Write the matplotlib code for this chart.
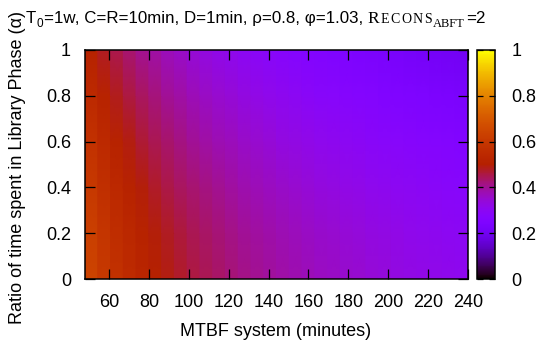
import numpy as np
import matplotlib
matplotlib.use('Agg')
import matplotlib.pyplot as plt

plt.rcParams['font.family'] = ['Liberation Sans', 'DejaVu Sans']

# MTBF grid (minutes): 31 nodes -> 30 pm3d columns
mtbf_nodes = np.linspace(48, 240, 31)
alpha_levels = [0.0, 0.2, 0.4, 0.6, 0.8, 1.0]

# colour value of each column, one list per alpha level
ratio_a00 = [0.640, 0.605, 0.575, 0.549, 0.527, 0.507, 0.490, 0.474, 0.460, 0.447,
             0.435, 0.424, 0.414, 0.405, 0.396, 0.388, 0.380, 0.373, 0.366, 0.360,
             0.354, 0.348, 0.343, 0.337, 0.332, 0.328, 0.323, 0.319, 0.315, 0.311]
ratio_a02 = [0.626, 0.592, 0.562, 0.536, 0.514, 0.494, 0.477, 0.462, 0.448, 0.435,
             0.423, 0.412, 0.402, 0.393, 0.384, 0.376, 0.368, 0.361, 0.354, 0.348,
             0.342, 0.336, 0.331, 0.325, 0.321, 0.316, 0.312, 0.308, 0.304, 0.300]
ratio_a04 = [0.604, 0.570, 0.540, 0.515, 0.493, 0.474, 0.457, 0.441, 0.427, 0.415,
             0.403, 0.392, 0.382, 0.373, 0.364, 0.356, 0.349, 0.342, 0.335, 0.329,
             0.323, 0.317, 0.312, 0.307, 0.302, 0.298, 0.293, 0.289, 0.285, 0.281]
ratio_a06 = [0.577, 0.543, 0.514, 0.489, 0.467, 0.448, 0.431, 0.416, 0.402, 0.390,
             0.378, 0.368, 0.358, 0.349, 0.340, 0.332, 0.325, 0.318, 0.311, 0.305,
             0.300, 0.294, 0.289, 0.283, 0.279, 0.274, 0.270, 0.266, 0.262, 0.258]
ratio_a08 = [0.546, 0.512, 0.484, 0.459, 0.438, 0.419, 0.402, 0.388, 0.374, 0.361,
             0.350, 0.340, 0.330, 0.321, 0.313, 0.305, 0.297, 0.291, 0.284, 0.278,
             0.273, 0.267, 0.262, 0.257, 0.252, 0.247, 0.243, 0.239, 0.235, 0.231]
ratio_a10 = [0.511, 0.478, 0.450, 0.426, 0.405, 0.387, 0.370, 0.356, 0.342, 0.330,
             0.319, 0.309, 0.299, 0.290, 0.282, 0.274, 0.267, 0.261, 0.254, 0.248,
             0.243, 0.237, 0.232, 0.227, 0.223, 0.218, 0.214, 0.210, 0.206, 0.202]

x_ticks = [60, 80, 100, 120, 140, 160, 180, 200, 220, 240]
y_ticks = [0, 0.2, 0.4, 0.6, 0.8, 1]
y_tick_labels = ['0', '0.2', '0.4', '0.6', '0.8', '1']

W, H = 539, 347
FS = 13
fig = plt.figure(figsize=(W / 100, H / 100), dpi=100)
ax = fig.add_axes([85 / W, 1 - 279 / H, 383 / W, 229 / H])

cells = np.array([ratio_a00, ratio_a02, ratio_a04, ratio_a06, ratio_a08, ratio_a10])
# flat columns in x, smooth in alpha (like pm3d with a fine alpha grid)
xs = np.repeat(mtbf_nodes, 2)[1:-1]
Xg, Yg = np.meshgrid(xs, alpha_levels)
Cg = np.repeat(cells, 2, axis=1)
mesh = ax.pcolormesh(Xg, Yg, Cg, shading='gouraud', cmap='gnuplot', vmin=0, vmax=1)

ax.set_xlim(48, 240)
ax.set_ylim(0, 1)
ax.set_xticks(x_ticks)
ax.set_yticks(y_ticks)
ax.set_yticklabels(y_tick_labels)
ax.tick_params(direction='in', top=True, right=True, length=7, width=0.9,
               labelsize=FS, color='black')
ax.tick_params(axis='x', pad=11)
ax.tick_params(axis='y', pad=10)
for sp in ax.spines.values():
    sp.set_linewidth(1.1)

cax = fig.add_axes([477 / W, 1 - 279 / H, 18 / W, 229 / H])
cb = fig.colorbar(mesh, cax=cax, ticks=y_ticks)
cb.ax.set_yticklabels(y_tick_labels)
cax.tick_params(direction='in', left=True, right=True, length=4, width=0.9,
                labelsize=FS, pad=12)
cb.outline.set_linewidth(1.1)

fig.text(18 / W, 1 - 168 / H, 'Ratio of time spent in Library Phase (α)',
         rotation=90, ha='center', va='center', fontsize=FS)
fig.text(276 / W, 1 - 332 / H, 'MTBF system (minutes)', ha='center', va='center',
         fontsize=FS)

# title built from pieces (subscripts and small caps)
TS = 12.2
sans = ['Liberation Sans', 'DejaVu Sans']
serif = ['Liberation Serif', 'DejaVu Serif']
runs = [
    ('T', TS, sans, 0, 0),
    ('0', 8.5, sans, -4, 1),
    ('=1w, C=R=10min, D=1min, ρ=0.8, φ=1.03,', TS, sans, 0, 4),
    ('R', 12.5, serif, 0, 1.4),
    ('E', 10, serif, 0, 1.6),
    ('C', 10, serif, 0, 1.6),
    ('O', 10, serif, 0, 1.6),
    ('N', 10, serif, 0, 1.6),
    ('S', 10, serif, 0, 1.0),
    ('ABFT', 9, serif, -4, 1),
    ('=2', TS, sans, 0, 0),
]
renderer = fig.canvas.get_renderer()
x = 26
base = 23
for txt, size, fam, dy, gap in runs:
    t = fig.text(x / W, 1 - (base - dy) / H, txt, fontsize=size, family=fam,
                 ha='left', va='baseline')
    x += t.get_window_extent(renderer).width + gap

fig.savefig('out.png', dpi=100)
